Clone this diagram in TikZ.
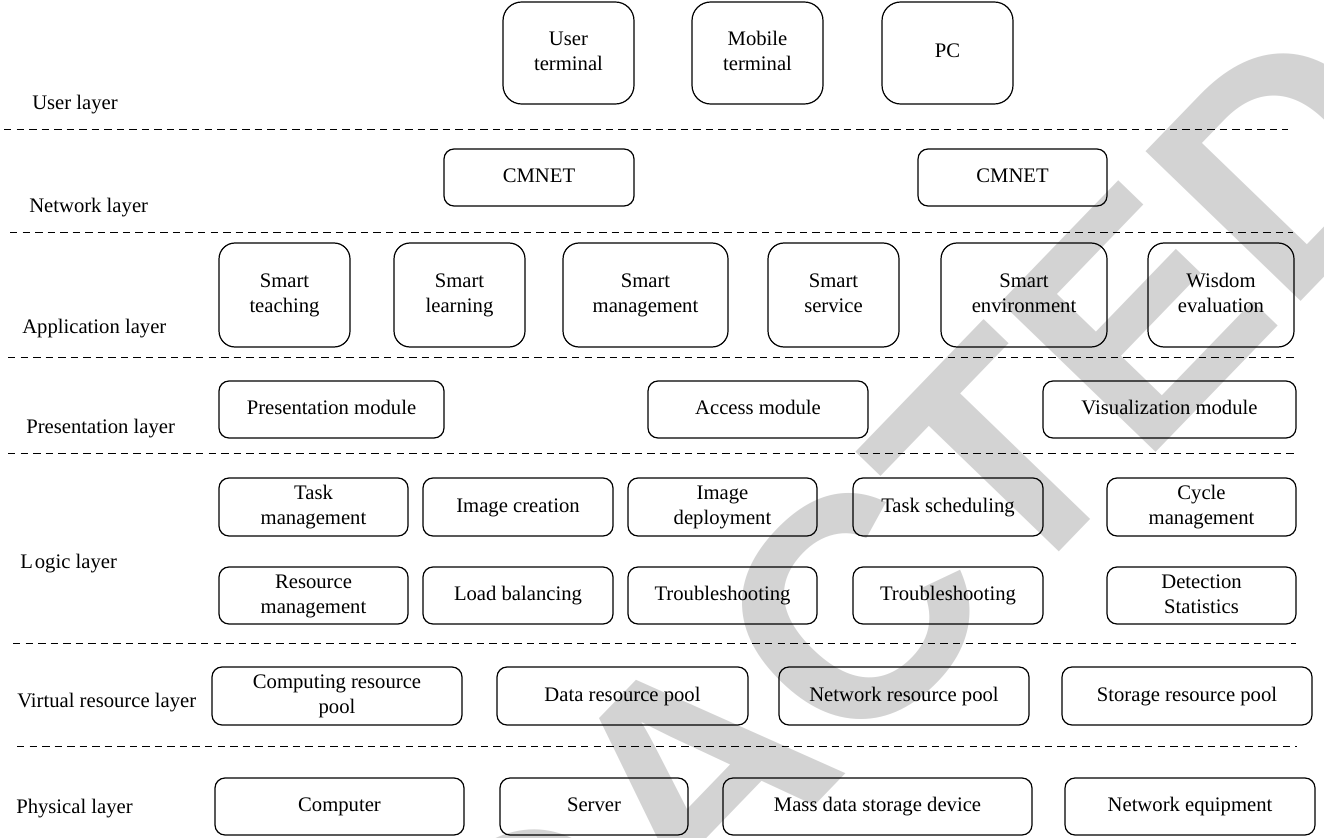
\documentclass[tikz,border=0pt]{standalone}
\usepackage{fontspec}
\setmainfont{Liberation Serif}
\newfontfamily\wmfont{Liberation Sans}
\definecolor{wmgray}{RGB}{211,211,211}
\newcommand\brk{\strut\\}
\newcommand\mybox[7]{\node[#1, minimum width={(#4-#2)*0.75pt}, minimum height={(#5-#3)*0.75pt}] (#6) at ({(#2+#4)/2},{(#3+#5)/2}) {#7\strut};}
\begin{document}
\begin{tikzpicture}[x=0.75pt,y=-0.75pt,
  lbl/.style={anchor=base west, inner sep=0, font=\fontsize{15.5pt}{18.75pt}\selectfont},
  bx/.style={draw, line width=0.9pt, inner sep=0, align=center, font=\fontsize{15.5pt}{18.75pt}\selectfont, rounded corners=7.5pt},
  bigbx/.style={bx, rounded corners=14pt},
  appbx/.style={bx, rounded corners=12pt},
  sepline/.style={line width=0.75pt, dash pattern=on 5.6pt off 3.8pt},
  wm/.style={text=wmgray, inner sep=0, font=\wmfont\bfseries\fontsize{235pt}{235pt}\selectfont}]
\useasboundingbox (0,0) rectangle (1324,838);
% watermark
\node[wm, rotate=46] (wmark) at (762,705) {REDACTED};
% separators
\coordinate (a1) at (4,130);   \coordinate (b1) at (1288,130);
\coordinate (a2) at (10,232);  \coordinate (b2) at (1293,232);
\coordinate (a3) at (8,357);   \coordinate (b3) at (1294,357);
\coordinate (a4) at (8,453);   \coordinate (b4) at (1294,453);
\coordinate (a5) at (13,643);  \coordinate (b5) at (1296,643);
\coordinate (a6) at (17,746);  \coordinate (b6) at (1297,746);
\foreach \i in {1,...,6} {\draw[sepline] (a\i) -- (b\i);}
% layer labels
\node[lbl] (lu) at (32,110) {User layer};
\node[lbl] (ln) at (29,212) {Network layer};
\node[lbl] (la) at (22,333) {Application layer};
\node[lbl] (lp) at (26,433) {Presentation layer};
\node[lbl] (ll) at (20,568) {L\kern1.5pt ogic layer};
\node[lbl] (lv) at (17,707) {Virtual resource layer};
\node[lbl] (lph) at (16,813) {Physical layer};
% user layer
\mybox{bigbx}{503}{2}{634}{104}{ut}{User\brk terminal}
\mybox{bigbx}{692}{2}{823}{104}{mt}{Mobile\brk terminal}
\mybox{bigbx}{882}{2}{1013}{104}{pc}{PC}
% network layer
\mybox{bx}{444}{149}{634}{206}{cm1}{CMNET}
\mybox{bx}{918}{149}{1107}{206}{cm2}{CMNET}
% application layer
\mybox{appbx}{219}{243}{350}{347}{st}{Smart\brk teaching}
\mybox{appbx}{394}{243}{525}{347}{sl}{Smart\brk learning}
\mybox{appbx}{563}{243}{728}{347}{sm}{Smart\brk management}
\mybox{appbx}{768}{243}{899}{347}{ss}{Smart\brk service}
\mybox{appbx}{941}{243}{1107}{347}{se}{Smart\brk environment}
\mybox{appbx}{1148}{243}{1294}{347}{we}{Wisdom\brk evaluation}
% presentation layer
\mybox{bx}{219}{381}{444}{438}{pm}{Presentation module}
\mybox{bx}{648}{381}{868}{438}{am}{Access module}
\mybox{bx}{1043}{381}{1296}{438}{vm}{Visualization module}
% logic layer
\mybox{bx}{219}{478}{408}{536}{tm}{Task\brk management}
\mybox{bx}{423}{478}{613}{536}{ic}{Image creation}
\mybox{bx}{628}{478}{817}{536}{id}{Image\brk deployment}
\mybox{bx}{853}{478}{1043}{536}{ts}{Task scheduling}
\mybox{bx}{1107}{478}{1296}{536}{cy}{Cycle\brk management}
\mybox{bx}{219}{567}{408}{624}{rm}{Resource\brk management}
\mybox{bx}{423}{567}{613}{624}{lb}{Load balancing}
\mybox{bx}{628}{567}{817}{624}{tr1}{Troubleshooting}
\mybox{bx}{853}{567}{1043}{624}{tr2}{Troubleshooting}
\mybox{bx}{1107}{567}{1296}{624}{ds}{Detection\brk Statistics}
% virtual resource layer
\mybox{bx}{212}{667}{462}{725}{crp}{Computing resource\brk pool}
\mybox{bx}{497}{667}{748}{725}{drp}{Data resource pool}
\mybox{bx}{779}{667}{1029}{725}{nrp}{Network resource pool}
\mybox{bx}{1062}{667}{1312}{725}{srp}{Storage resource pool}
% physical layer
\mybox{bx}{215}{778}{464}{835}{comp}{Computer}
\mybox{bx}{500}{778}{688}{835}{serv}{Server}
\mybox{bx}{723}{778}{1032}{835}{mass}{Mass data storage device}
\mybox{bx}{1065}{778}{1315}{835}{neq}{Network equipment}
\end{tikzpicture}
\end{document}
